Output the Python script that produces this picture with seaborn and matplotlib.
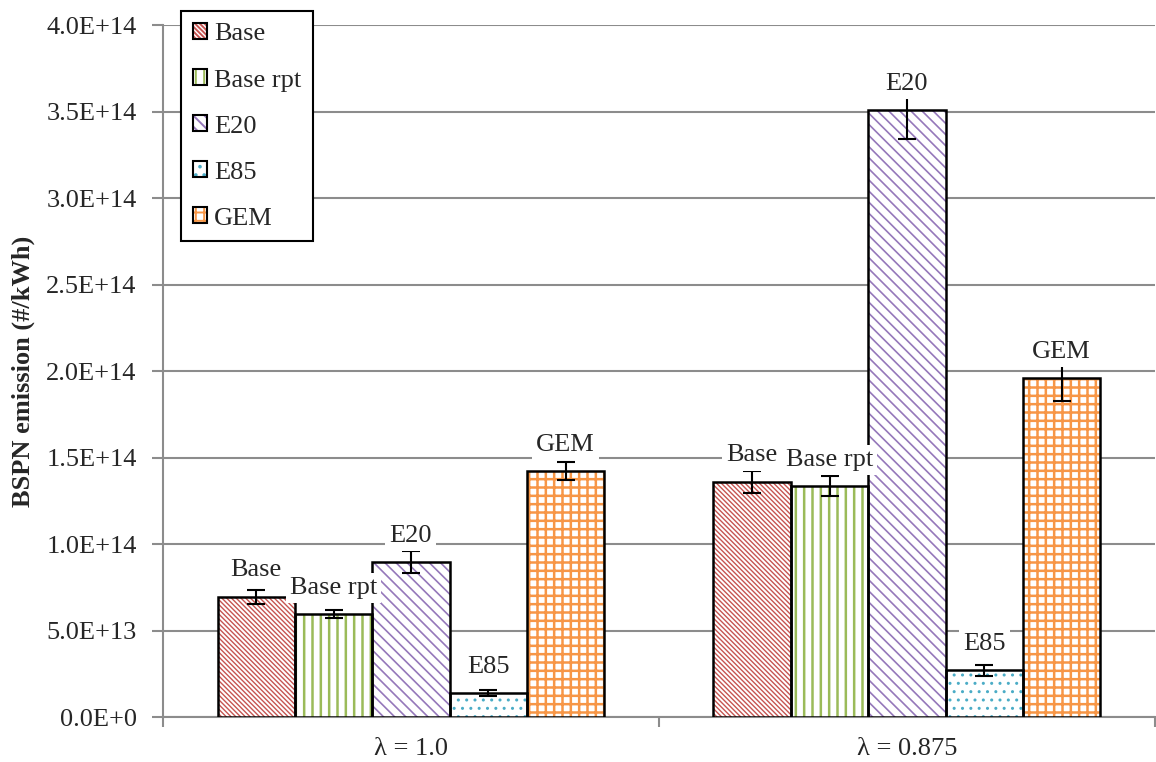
import pandas as pd
import matplotlib.pyplot as plt
import seaborn as sns
from matplotlib.patches import Patch, Rectangle
from matplotlib.ticker import FixedLocator, FuncFormatter

# ---- data ----
lambdas = ['λ = 1.0', 'λ = 0.875']
fuels = ['Base', 'Base rpt', 'E20', 'E85', 'GEM']
bspn_l100 = [6.95e13, 5.95e13, 8.95e13, 1.39e13, 1.42e14]
bspn_l0875 = [1.36e14, 1.335e14, 3.51e14, 2.70e13, 1.96e14]
err_l100 = [0.40e13, 0.23e13, 0.64e13, 0.17e13, 0.52e13]
err_l0875 = [0.64e13, 0.58e13, 1.68e13, 0.30e13, 1.33e13]

hatch_colors = ['#C65552', '#9BBB59', '#9578BA', '#4BACC6', '#F79646']
hatches = ['\\' * 7, '||', '\\\\\\', '..', '++']
hatch_lws = [1.0, 1.8, 1.2, 1.0, 1.8]

df = pd.DataFrame({
    'lam': [lambdas[0]] * 5 + [lambdas[1]] * 5,
    'fuel': fuels * 2,
    'bspn': bspn_l100 + bspn_l0875,
    'err': err_l100 + err_l0875,
})

FS = 19

sns.set_style('white')
plt.rcParams['font.family'] = ['Liberation Serif', 'DejaVu Serif']
plt.rcParams['hatch.linewidth'] = 1.4

fig = plt.figure(figsize=(11.56, 7.62), dpi=100)
ax = fig.add_axes([0.141, 0.059, 0.858, 0.908])

sns.barplot(data=df, x='lam', y='bspn', hue='fuel', order=lambdas,
            hue_order=fuels, width=0.78, errorbar=None, ax=ax,
            legend=False, zorder=3)


def style_hatch(p, col, h, hlw):
    p.set_facecolor('white')
    p.set_edgecolor(col)
    p.set_hatch(h)
    p.set_linewidth(0)
    if hasattr(p, 'set_hatch_linewidth'):
        p.set_hatch_linewidth(hlw)


# hatch fill in colour, black outline drawn on top
for cont, col, h, hlw in zip(ax.containers, hatch_colors, hatches, hatch_lws):
    for p in cont:
        style_hatch(p, col, h, hlw)
        ax.add_patch(Rectangle(p.get_xy(), p.get_width(), p.get_height(),
                               fill=False, edgecolor='black', lw=1.8,
                               zorder=4))

# error bars and data labels
for cont, fuel in zip(ax.containers, fuels):
    sub = df[df['fuel'] == fuel].set_index('lam').loc[lambdas]
    xs = [p.get_x() + p.get_width() / 2 for p in cont]
    ax.errorbar(xs, sub['bspn'], yerr=sub['err'], fmt='none', ecolor='black',
                elinewidth=1.5, capsize=6.5, capthick=1.5, zorder=5)
    for x, y in zip(xs, sub['bspn']):
        ax.annotate(fuel, (x, y), xytext=(0, 19), textcoords='offset points',
                    ha='center', va='center', fontsize=FS, zorder=6,
                    bbox=dict(facecolor='white', edgecolor='none', pad=3))


def sci(v, pos):
    if v == 0:
        return '0.0E+0'
    m, e = f'{v:.1e}'.split('e')
    return f'{m}E+{int(e)}'


# axes styling
ax.set_ylim(0, 4.0e14)
ax.set_xlim(-0.5, 1.5)
ax.yaxis.set_major_locator(FixedLocator([i * 0.5e14 for i in range(9)]))
ax.yaxis.set_major_formatter(FuncFormatter(sci))
ax.grid(axis='y', color='#8c8c8c', lw=1.5, zorder=0)
ax.set_axisbelow(True)

ax.set_xticks([-0.5, 0.5, 1.5])
ax.set_xticklabels([])
ax.set_xticks([0, 1], minor=True)
ax.set_xticklabels(lambdas, minor=True, fontsize=FS)
ax.tick_params(axis='x', which='major', direction='out', length=7,
               width=1.5, color='#8c8c8c', bottom=True)
ax.tick_params(axis='x', which='minor', length=0, pad=15)
ax.tick_params(axis='y', direction='out', length=8, width=1.5,
               color='#8c8c8c', left=True, labelsize=FS, pad=11)

for s in ['top', 'right']:
    ax.spines[s].set_visible(False)
for s in ['left', 'bottom']:
    ax.spines[s].set_color('#8c8c8c')
    ax.spines[s].set_linewidth(1.5)

ax.set_xlabel('')
ax.set_ylabel('BSPN emission (#/kWh)', fontsize=FS, fontweight='bold',
              labelpad=8)

# legend: hatched square overlaid with black outline
handles = []
for c, h, hlw in zip(hatch_colors, hatches, hatch_lws):
    hp = Patch()
    style_hatch(hp, c, h, hlw)
    handles.append((hp, Patch(facecolor='none', edgecolor='black', lw=1.5)))
leg = ax.legend(handles, fuels, loc='upper left', bbox_to_anchor=(0.018, 1.02),
                fontsize=FS, handlelength=0.55, handleheight=0.55,
                handletextpad=0.25, labelspacing=0.9, borderpad=0.45,
                borderaxespad=0, fancybox=False, framealpha=1,
                edgecolor='black')
leg.get_frame().set_linewidth(1.5)
leg.set_zorder(10)

plt.savefig('out.png', dpi=100)
